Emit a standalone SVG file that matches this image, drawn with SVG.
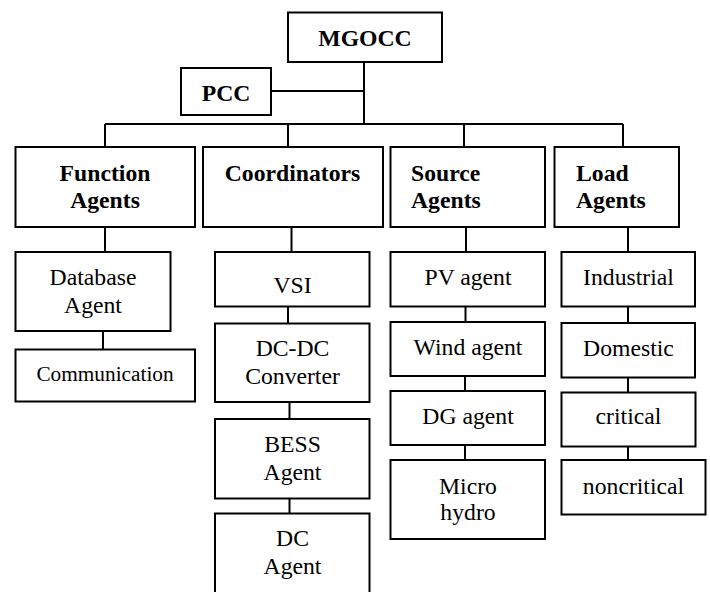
<svg xmlns="http://www.w3.org/2000/svg" width="710" height="592" viewBox="0 0 710 592">
<style>
rect{fill:#fff;stroke:#000;stroke-width:2}
.c line{stroke:#000;stroke-width:2;fill:none}
text{font-size:23.7px;fill:#000;text-anchor:middle}
.b{font-weight:bold}
.l{text-anchor:start}
</style>
<rect x="0" y="0" width="710" height="592" style="stroke:none"/>
<g class="c">
<line x1="364" y1="62" x2="364" y2="124"/>
<line x1="271" y1="91" x2="364" y2="91"/>
<line x1="105" y1="124" x2="623" y2="124"/>
<line x1="105" y1="124" x2="105" y2="147"/>
<line x1="288" y1="124" x2="288" y2="147"/>
<line x1="464" y1="124" x2="464" y2="147"/>
<line x1="623" y1="124" x2="623" y2="147"/>
<line x1="105" y1="227" x2="105" y2="252"/>
<line x1="103" y1="331" x2="103" y2="349"/>
<line x1="291.5" y1="227" x2="291.5" y2="252"/>
<line x1="288" y1="306" x2="288" y2="323"/>
<line x1="289.5" y1="402" x2="289.5" y2="419"/>
<line x1="289.5" y1="497" x2="289.5" y2="513"/>
<line x1="466" y1="227" x2="466" y2="252"/>
<line x1="465.5" y1="306" x2="465.5" y2="322"/>
<line x1="465" y1="376" x2="465" y2="391"/>
<line x1="465" y1="445" x2="465" y2="460"/>
<line x1="628" y1="227" x2="628" y2="252"/>
<line x1="628" y1="306" x2="628" y2="323"/>
<line x1="628" y1="377" x2="628" y2="392"/>
<line x1="628" y1="447" x2="628" y2="460"/>
</g>
<g font-family="Liberation Serif, DejaVu Serif, serif">
<g id="mgocc"><rect x="288" y="12.5" width="154" height="49.5"/><text class="b" x="365" y="46">MGOCC</text></g>
<g id="pcc"><rect x="181" y="68" width="90" height="47"/><text class="b" x="226" y="101">PCC</text></g>
<g id="function-agents"><rect x="15.5" y="147" width="179.5" height="80"/><text class="b" x="105" y="181">Function</text><text class="b" x="105" y="208">Agents</text></g>
<g id="coordinators"><rect x="203" y="147" width="180" height="80"/><text class="b" x="292.5" y="181">Coordinators</text></g>
<g id="source-agents"><rect x="390.5" y="147" width="154.5" height="80"/><text class="b l" x="411" y="181">Source</text><text class="b l" x="411" y="208">Agents</text></g>
<g id="load-agents"><rect x="554.5" y="147" width="124.5" height="80"/><text class="b l" x="576" y="181">Load</text><text class="b l" x="576" y="208">Agents</text></g>
<g id="database-agent"><rect x="15.5" y="252" width="155" height="79"/><text x="93" y="285">Database</text><text x="93" y="312.5">Agent</text></g>
<g id="communication"><rect x="15.5" y="349.5" width="179.5" height="52"/><text x="105" y="380.5" style="font-size:21.3px">Communication</text></g>
<g id="vsi"><rect x="215" y="252" width="154.5" height="54.5"/><text x="292.5" y="293">VSI</text></g>
<g id="dc-dc"><rect x="215" y="323.5" width="154.5" height="78.5"/><text x="292.5" y="356">DC-DC</text><text x="292.5" y="384">Converter</text></g>
<g id="bess"><rect x="215" y="419" width="154.5" height="79.5"/><text x="292.5" y="451.5">BESS</text><text x="292.5" y="480">Agent</text></g>
<g id="dc-agent"><rect x="215" y="513.5" width="154.5" height="90"/><text x="292.5" y="546">DC</text><text x="292.5" y="573.5">Agent</text></g>
<g id="pv-agent"><rect x="390.5" y="252" width="154.5" height="54.5"/><text x="468" y="285">PV agent</text></g>
<g id="wind-agent"><rect x="390.5" y="322" width="154.5" height="54"/><text x="468" y="354.5">Wind agent</text></g>
<g id="dg-agent"><rect x="390.5" y="391" width="154.5" height="54"/><text x="468" y="424">DG agent</text></g>
<g id="micro-hydro"><rect x="390.5" y="460" width="154.5" height="79"/><text x="468" y="493.5">Micro</text><text x="468" y="520">hydro</text></g>
<g id="industrial"><rect x="561.5" y="252" width="133.5" height="54.5"/><text x="628.5" y="285">Industrial</text></g>
<g id="domestic"><rect x="561.5" y="323" width="133.5" height="54.5"/><text x="628.5" y="355.5">Domestic</text></g>
<g id="critical"><rect x="561.5" y="392.5" width="134" height="54"/><text x="628.5" y="424">critical</text></g>
<g id="noncritical"><rect x="561.5" y="460" width="144" height="54.5"/><text x="633.5" y="493.5">noncritical</text></g>
</g>
</svg>
